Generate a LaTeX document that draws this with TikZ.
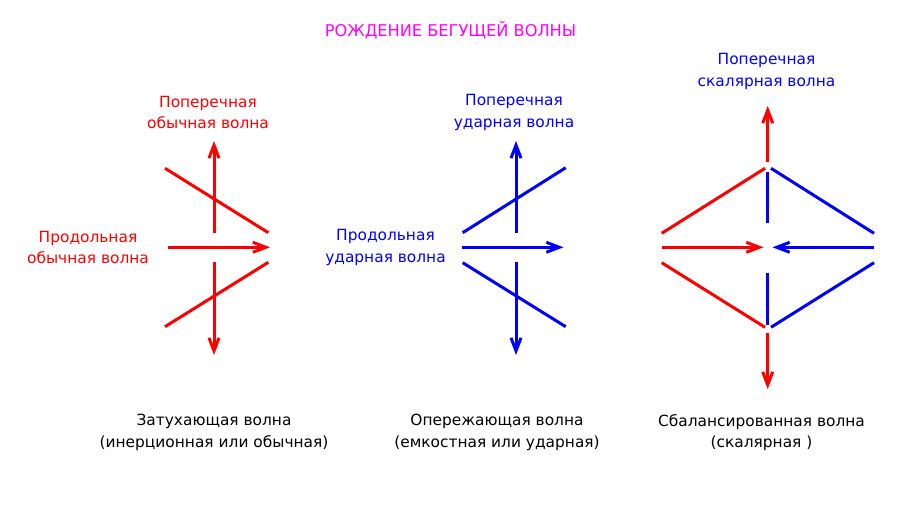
\documentclass[tikz,border=0pt]{standalone}
\usepackage{fontspec}
\setmainfont{DejaVu Sans}
\usetikzlibrary{arrows.meta}
\definecolor{rd}{RGB}{255,0,0}
\definecolor{bl}{RGB}{0,0,255}
\definecolor{mg}{RGB}{255,0,255}
\tikzset{
  wave/.style={line width=3pt},
  arr/.style={wave,-{Straight Barb[length=13pt,width=10pt,line width=3pt]}},
  lbl/.style={align=center,inner sep=0pt,font=\fontsize{15.4}{21.6}\selectfont},
}
\begin{document}
\begin{tikzpicture}[x=1pt,y=-1pt]
\useasboundingbox (0,0) rectangle (920,505);
\fill[white] (0,0) rectangle (920,505);
% title
\node[lbl,text=mg,font=\fontsize{16.2}{21.6}\selectfont] (title) at (450.5,30) {РОЖДЕНИЕ БЕГУЩЕЙ ВОЛНЫ};
% ---- diagram 1 (red)
\coordinate (a1) at (214,233); \coordinate (a1t) at (214,141);
\coordinate (a2) at (214,262); \coordinate (a2t) at (214,355);
\coordinate (a3) at (168,247.3); \coordinate (a3t) at (270,247.3);
\coordinate (d1s) at (165,168.3); \coordinate (d1e) at (268.3,232.7);
\coordinate (d2s) at (165,326.7); \coordinate (d2e) at (268.3,262.3);
\draw[arr,rd] (a1) -- (a1t);
\draw[arr,rd] (a2) -- (a2t);
\draw[arr,rd] (a3) -- (a3t);
\draw[wave,rd] (d1s) -- (d1e);
\draw[wave,rd] (d2s) -- (d2e);
\node[lbl,text=rd] (t1) at (208,112.5) {Поперечная\\обычная волна};
\node[lbl,text=rd] (l1) at (88,247.5) {Продольная\\обычная волна};
\node[lbl] (c1) at (214,432.5) {Затухающая волна\\(инерционная или обычная)};
% ---- diagram 2 (blue)
\coordinate (b1) at (516,233); \coordinate (b1t) at (516,141);
\coordinate (b2) at (516,262); \coordinate (b2t) at (516,355);
\coordinate (b3) at (461.7,247.3); \coordinate (b3t) at (563.5,247.3);
\coordinate (e1s) at (462.7,232.7); \coordinate (e1e) at (565.7,167.7);
\coordinate (e2s) at (462.7,262.7); \coordinate (e2e) at (565.7,326.7);
\draw[arr,bl] (b1) -- (b1t);
\draw[arr,bl] (b2) -- (b2t);
\draw[arr,bl] (b3) -- (b3t);
\draw[wave,bl] (e1s) -- (e1e);
\draw[wave,bl] (e2s) -- (e2e);
\node[lbl,text=bl] (t2) at (514,112.5) {Поперечная\\ударная волна};
\node[lbl,text=bl] (l2) at (385.5,247.5) {Продольная\\ударная волна};
\node[lbl] (c2) at (497,432.5) {Опережающая волна\\(емкостная или ударная)};
% ---- diagram 3 (balanced)
\coordinate (top) at (767.7,161.7); \coordinate (topt) at (767.7,106);
\coordinate (bot) at (767.7,333.3); \coordinate (bott) at (767.7,389);
\coordinate (rl) at (661.7,247.3); \coordinate (rlt) at (763.5,247.3);
\coordinate (br) at (874,247.3); \coordinate (brt) at (772.5,247.3);
\coordinate (ul) at (661.7,233.3); \coordinate (ulm) at (765,168.3);
\coordinate (urm) at (771,168.3); \coordinate (ur) at (874,233.3);
\coordinate (ll) at (661.7,262.7); \coordinate (llm) at (765,327.3);
\coordinate (lrm) at (771,327.3); \coordinate (lr) at (874,262.7);
\coordinate (vu1) at (767.7,171.7); \coordinate (vu2) at (767.7,222.7);
\coordinate (vd1) at (767.7,272.7); \coordinate (vd2) at (767.7,325);
\draw[arr,rd] (top) -- (topt);
\draw[arr,rd] (bot) -- (bott);
\draw[arr,rd] (rl) -- (rlt);
\draw[arr,bl] (br) -- (brt);
\draw[wave,rd] (ul) -- (ulm);
\draw[wave,bl] (urm) -- (ur);
\draw[wave,rd] (ll) -- (llm);
\draw[wave,bl] (lrm) -- (lr);
\draw[wave,bl] (vu1) -- (vu2);
\draw[wave,bl] (vd1) -- (vd2);
\node[lbl,text=bl] (t3) at (766.5,71.7) {Поперечная\\скалярная волна};
\node[lbl] (c3) at (761.5,432.5) {Сбалансированная волна\\(скалярная )};
\end{tikzpicture}
\end{document}
